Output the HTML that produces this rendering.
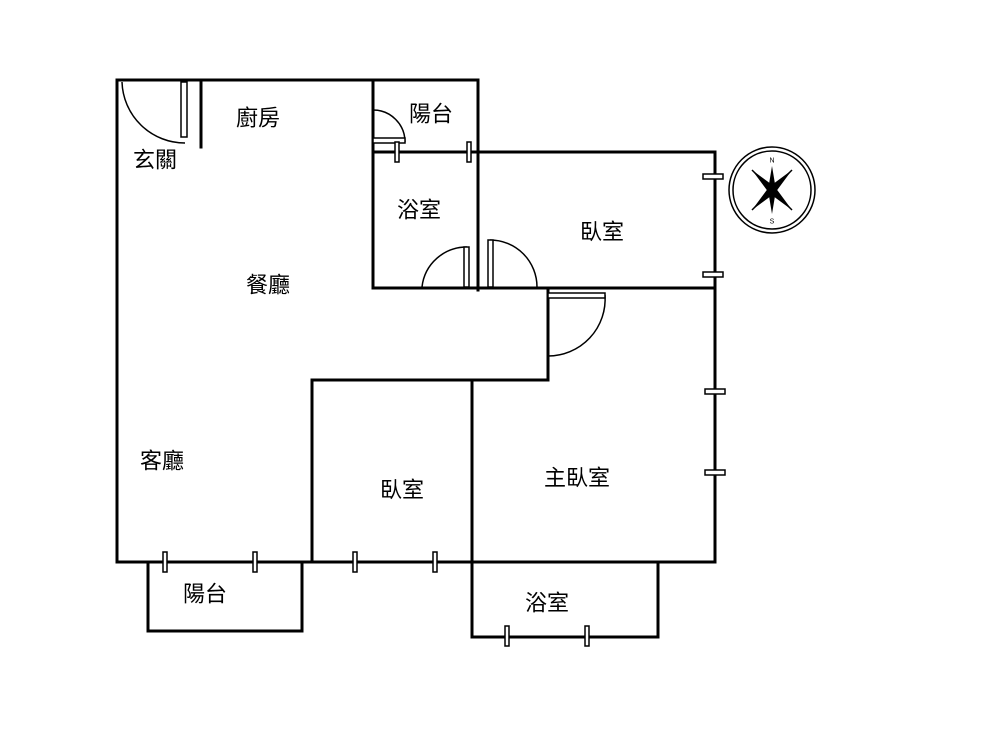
<!DOCTYPE html>
<html><head><meta charset="utf-8"><style>
html,body{margin:0;padding:0;background:#fff;}
svg text{font-family:"Liberation Sans","Noto Sans CJK TC",sans-serif;font-size:22px;fill:#000;text-anchor:middle;dominant-baseline:central;}
</style></head><body>
<svg width="1000" height="750" viewBox="0 0 1000 750" xmlns="http://www.w3.org/2000/svg">
<g stroke="#000" stroke-width="3" fill="none" stroke-linecap="square">
<path d="M117 80 H478 M117 80 V562 H715 M715 152 V562 M201 80 V147 M373 80 V287 M478 80 V290 M373 152 H715 M373 288 H712 M548 288 V380 H312 V562 M472 380 V637 M148 562 V631 H302 V562 M472 637 H658 V562"/>
</g>
<g stroke="#000" stroke-width="1.5" fill="none">
<path d="M122 82 A63 63 0 0 0 185 143"/>
<rect x="181" y="82" width="6" height="55" fill="#fff"/>
<path d="M373 110 A32 32 0 0 1 405 142"/>
<rect x="373" y="138" width="32" height="5" fill="#fff"/>
<path d="M422 287 A45 45 0 0 1 467 247"/>
<rect x="464" y="247" width="5" height="40" fill="#fff"/>
<path d="M490 240 A47 47 0 0 1 537 287"/>
<rect x="488" y="240" width="5" height="47" fill="#fff"/>
<path d="M605 295 A57 57 0 0 1 548 356"/>
<rect x="548" y="293" width="57" height="5" fill="#fff"/>
<rect x="395" y="142" width="4" height="20" fill="#fff"/>
<rect x="467" y="142" width="4" height="20" fill="#fff"/>
<rect x="703" y="174" width="20" height="5" fill="#fff"/>
<rect x="703" y="272" width="20" height="5" fill="#fff"/>
<rect x="705" y="389" width="20" height="5" fill="#fff"/>
<rect x="705" y="470" width="20" height="5" fill="#fff"/>
<rect x="163" y="552" width="4" height="20" fill="#fff"/>
<rect x="253" y="552" width="4" height="20" fill="#fff"/>
<rect x="353" y="552" width="4" height="20" fill="#fff"/>
<rect x="433" y="552" width="4" height="20" fill="#fff"/>
<rect x="505" y="626" width="4" height="20" fill="#fff"/>
<rect x="585" y="626" width="4" height="20" fill="#fff"/>
<circle cx="772" cy="190" r="43"/>
<circle cx="772" cy="190" r="39"/>
<path d="M752 170 L772 190 L792 170 M752 210 L772 190 L792 210"/>
</g>
<path d="M772 166 L776 190 L772 214 L768 190 Z" fill="#000"/>
<path d="M752 170 L775 187 L769 193 Z M792 170 L775 193 L769 187 Z M752 210 L769 187 L775 193 Z M792 210 L769 193 L775 187 Z" fill="#000"/>
<text x="772" y="161" style="font-size:7px">N</text>
<text x="772" y="222" style="font-size:7px">S</text>
<text x="258" y="118">廚房</text>
<text x="155" y="160">玄關</text>
<text x="431" y="114">陽台</text>
<text x="419" y="210">浴室</text>
<text x="602" y="232">臥室</text>
<text x="268" y="285">餐廳</text>
<text x="162" y="461">客廳</text>
<text x="402" y="490">臥室</text>
<text x="577" y="478">主臥室</text>
<text x="205" y="594">陽台</text>
<text x="547" y="603">浴室</text>
</svg>
</body></html>
